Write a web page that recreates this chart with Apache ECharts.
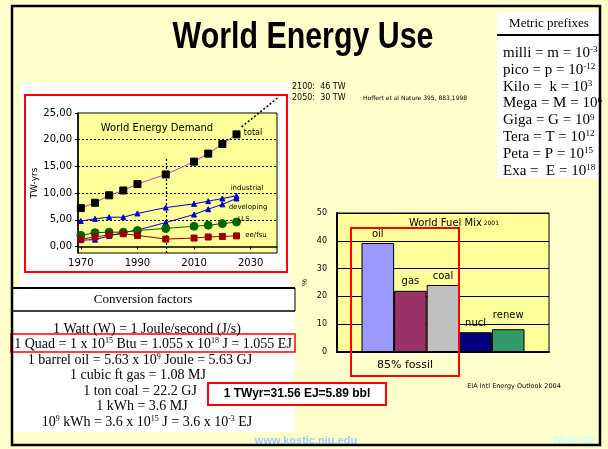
<!DOCTYPE html>
<html>
<head>
<meta charset="utf-8">
<script src="https://cdn.jsdelivr.net/npm/echarts@6/dist/echarts.min.js"></script>
<style>
html,body{margin:0;padding:0;background:#ffffcc}
#main{width:608px;height:449px}
</style>
</head>
<body>
<div id="main"></div>
<script>
// world energy demand, TW-yrs
const years = [1970, 1975, 1980, 1985, 1990, 2000, 2010, 2015, 2020, 2025];
const total = [7.2, 8.2, 9.6, 10.5, 11.7, 13.5, 15.9, 17.4, 19.2, 21.0];
const industrial = [4.8, 5.2, 5.5, 5.5, 6.2, 7.3, 8.0, 8.5, 9.0, 9.5];
const developing = [1.2, 1.3, 2.0, 2.6, 3.1, 4.5, 6.0, 7.0, 7.9, 9.0];
const us = [2.1, 2.6, 2.7, 2.7, 3.0, 3.4, 3.8, 4.0, 4.3, 4.6];
const eefsu = [1.4, 1.8, 2.2, 2.4, 2.1, 1.4, 1.6, 1.8, 1.9, 2.0];
const projection = [[2026.8, 22.4], [2042.5, 29.1]];
const yearTicks = [1970, 1990, 2010, 2030];
const twTicks = [0, 5, 10, 15, 20, 25];

// world fuel mix 2001, %
const fuels = ['oil', 'gas', 'coal', 'nucl', 'renew'];
const fuelShare = [39.2, 22.0, 24.1, 7.1, 8.2];
const fuelColors = ['#9999ff', '#993366', '#c0c0c0', '#000080', '#339966'];

const prefixes = [
  'milli = m = 10{s|-3}',
  'pico = p = 10{s|-12}',
  'Kilo =  k = 10{s|3}',
  'Mega = M = 10{s|6}',
  'Giga = G = 10{s|9}',
  'Tera = T = 10{s|12}',
  'Peta = P = 10{s|15}',
  'Exa =  E = 10{s|18}'
];
const conversions = [
  ['1 Watt (W) = 1 Joule/second (J/s)', 147, 329],
  ['1 Quad = 1 x 10{s|15} Btu = 1.055 x 10{s|18} J = 1.055 EJ', 153, 344],
  ['1 barrel oil = 5.63 x 10{s|9} Joule = 5.63 GJ', 140, 360],
  ['1 cubic ft gas = 1.08 MJ', 138, 375],
  ['1 ton coal = 22.2 GJ', 140, 391],
  ['1 kWh = 3.6 MJ', 142, 406],
  ['10{s|9} kWh = 3.6 x 10{s|15} J = 3.6 x 10{s|-3} EJ', 147, 422]
];

const comic = "'DejaVu Sans', sans-serif";
const serif = "'Liberation Serif', serif";
const arial = "'Liberation Sans', Arial, sans-serif";

function demandLine(name, vals, lineColor, symbol, size, symColor) {
  return {
    name: name,
    type: 'line',
    xAxisIndex: 0,
    yAxisIndex: 0,
    data: years.map((y, i) => [y, vals[i]]),
    symbol: symbol,
    symbolSize: size,
    lineStyle: {color: lineColor, width: 1},
    itemStyle: {color: symColor, borderColor: symColor},
    z: 5
  };
}

function txt(text, x, y, size, family, extra) {
  return {
    type: 'text', x: x, y: y, z: 50,
    style: Object.assign({
      text: text, fontSize: size, fontFamily: family, fill: '#000',
      align: 'center', verticalAlign: 'middle'
    }, extra || {})
  };
}

const supRich = (size) => ({s: {fontSize: size, fontFamily: serif, fill: '#000', verticalAlign: 'top'}});

const title = txt('World Energy Use', 0, 0, 37, arial, {fontWeight: 'bold'});
title.x = 303;
title.y = 38;
title.scaleX = 0.82;

const graphics = [
  // panels
  {type: 'rect', z: -5, shape: {x: 20, y: 83, width: 270, height: 205}, style: {fill: '#fff'}},
  {type: 'rect', z: -5, shape: {x: 12, y: 288, width: 283, height: 144}, style: {fill: '#fff'}},
  {type: 'rect', z: 40, shape: {x: 497, y: 12, width: 103, height: 166}, style: {fill: '#fff'}},
  {type: 'line', z: 41, shape: {x1: 497, y1: 35, x2: 600, y2: 35}, style: {stroke: '#000', lineWidth: 2}},
  {type: 'line', z: 41, shape: {x1: 12, y1: 288, x2: 295, y2: 288}, style: {stroke: '#000', lineWidth: 2}},
  {type: 'line', z: 41, shape: {x1: 12, y1: 311, x2: 295, y2: 311}, style: {stroke: '#000', lineWidth: 1.5}},
  {type: 'line', z: 41, shape: {x1: 295, y1: 288, x2: 295, y2: 311}, style: {stroke: '#000', lineWidth: 1}},
  // red boxes
  {type: 'rect', z: 30, shape: {x: 25, y: 95, width: 262, height: 177}, style: {fill: null, stroke: '#ff0000', lineWidth: 2}},
  {type: 'rect', z: 30, shape: {x: 351, y: 228, width: 108, height: 148}, style: {fill: null, stroke: '#ff0000', lineWidth: 2}},
  {type: 'rect', z: 30, shape: {x: 11, y: 334, width: 284, height: 18}, style: {fill: null, stroke: '#ff0000', lineWidth: 1.5}},
  {type: 'rect', z: 30, shape: {x: 208, y: 383, width: 178, height: 22}, style: {fill: '#fff', stroke: '#ff0000', lineWidth: 2}},
  // slide border
  {type: 'rect', z: 60, shape: {x: 12, y: 6, width: 588, height: 439}, style: {fill: null, stroke: '#000', lineWidth: 2.5}},

  title,
  txt('World Energy Demand', 157, 128, 10, comic),
  txt('total', 253, 133, 8, comic),
  txt('industrial', 247, 188, 7, comic),
  txt('developing', 248, 207, 7, comic),
  txt('U.S.', 245, 219, 7, comic),
  txt('ee/fsu', 256, 235, 7, comic),
  txt('2100:  46 TW', 292, 87, 8, comic, {align: 'left'}),
  txt('2050:  30 TW', 292, 98, 8, comic, {align: 'left'}),
  txt('Hoffert et al Nature 395, 883,1998', 363, 98, 6, comic, {align: 'left'}),
  txt('{t|World Fuel Mix} 2001', 454, 223, 6, comic, {rich: {t: {fontSize: 10, fontFamily: comic, fill: '#000'}}}),
  txt('85% fossil', 405, 365, 11, comic),
  txt('EIA Intl Energy Outlook 2004', 514, 386, 6.5, comic),
  txt('1 TWyr=31.56 EJ=5.89 bbl', 297, 394, 12, arial, {fontWeight: 'bold'}),
  txt('www.kostic.niu.edu', 306, 441, 11, arial, {fontWeight: 'bold', fill: '#99ccff'}),
  txt('Slide 32', 574, 441, 11, arial, {fontWeight: 'bold', fill: '#ccffff'}),
  txt('Metric prefixes', 549, 24, 13, serif),
  txt('Conversion factors', 143, 300, 13, serif)
];

prefixes.forEach((p, i) => {
  graphics.push(txt(p, 503, 53 + i * 16.8, 15, serif, {align: 'left', rich: supRich(9)}));
});
conversions.forEach((c) => {
  graphics.push(txt(c[0], c[1], c[2], 14, serif, {rich: supRich(8)}));
});

const series = [
  Object.assign(demandLine('total', total, '#cc33cc', 'rect', 7, '#000'), {
    markLine: {
      silent: true,
      symbol: 'none',
      animation: false,
      label: {show: false},
      lineStyle: {color: '#000', type: [2, 2], width: 1.2},
      data: [
        {yAxis: 5}, {yAxis: 10}, {yAxis: 15}, {yAxis: 20},
        [{coord: [2000, -1.2]}, {coord: [2000, 16.8]}]
      ]
    }
  }),
  demandLine('industrial', industrial, '#0000cc', 'triangle', 5, '#0000cc'),
  demandLine('developing', developing, '#0000cc', 'triangle', 5, '#0000cc'),
  demandLine('U.S.', us, '#006600', 'circle', 8, '#006600'),
  demandLine('ee/fsu', eefsu, '#990000', 'rect', 6, '#990000'),
  {
    name: 'projection',
    type: 'line',
    xAxisIndex: 0,
    yAxisIndex: 0,
    data: projection,
    clip: false,
    symbol: 'none',
    lineStyle: {color: '#000', type: [2, 2], width: 1.5},
    z: 6
  }
];

fuels.forEach((f, i) => {
  series.push({
    name: f,
    type: 'bar',
    xAxisIndex: 1,
    yAxisIndex: 1,
    data: [fuelShare[i]],
    barWidth: 32.6,
    barGap: '0%',
    itemStyle: {color: fuelColors[i], borderColor: '#000', borderWidth: 1},
    label: {
      show: true, position: 'top', distance: f === 'renew' ? 9 : 4,
      formatter: f, fontSize: 10, fontFamily: comic, color: '#000'
    }
  });
});

const chart = echarts.init(document.getElementById('main'), null, {renderer: 'canvas'});
chart.setOption({
  animation: false,
  backgroundColor: '#ffffcc',
  grid: [
    {left: 78, top: 113, width: 199, height: 140, show: true, backgroundColor: '#ffff99', borderColor: '#000', borderWidth: 1},
    {left: 337, top: 213, width: 212, height: 139, show: true, backgroundColor: '#ffff99', borderColor: '#000', borderWidth: 1}
  ],
  xAxis: [
    {
      gridIndex: 0, type: 'value', min: 1969, max: 2039.3,
      axisLine: {lineStyle: {color: '#000', width: 1.5}},
      axisTick: {show: true, customValues: yearTicks, length: 3, lineStyle: {color: '#000'}},
      axisLabel: {
        customValues: yearTicks, fontSize: 10, color: '#000', margin: 5, fontFamily: comic,
        formatter: (v) => String(v)
      },
      splitLine: {show: false}
    },
    {
      gridIndex: 1, type: 'category', data: ['World Fuel Mix'],
      axisLine: {lineStyle: {color: '#000', width: 2}},
      axisTick: {show: false},
      axisLabel: {show: false},
      splitLine: {show: false}
    }
  ],
  yAxis: [
    {
      gridIndex: 0, type: 'value', min: -1.2, max: 25,
      name: 'TW-yrs', nameLocation: 'middle', nameGap: 36, nameRotate: 90,
      nameTextStyle: {fontSize: 9, color: '#000', fontFamily: comic},
      axisLine: {show: true, lineStyle: {color: '#000', width: 1.5}},
      axisTick: {show: true, customValues: twTicks, length: 3, lineStyle: {color: '#000'}},
      axisLabel: {
        customValues: twTicks, fontSize: 10, color: '#000', margin: 6, fontFamily: comic,
        formatter: (v) => v.toFixed(2).replace('.', ',')
      },
      splitLine: {show: false}
    },
    {
      gridIndex: 1, type: 'value', min: 0, max: 50, interval: 10,
      name: '%', nameLocation: 'middle', nameGap: 28, nameRotate: 90,
      nameTextStyle: {fontSize: 8, color: '#000'},
      axisLine: {show: true, lineStyle: {color: '#000', width: 2}},
      axisTick: {show: false},
      axisLabel: {fontSize: 8, color: '#000', margin: 10, fontFamily: comic},
      splitLine: {lineStyle: {color: '#000', width: 1}}
    }
  ],
  series: series,
  graphic: {elements: graphics}
});
</script>
</body>
</html>
